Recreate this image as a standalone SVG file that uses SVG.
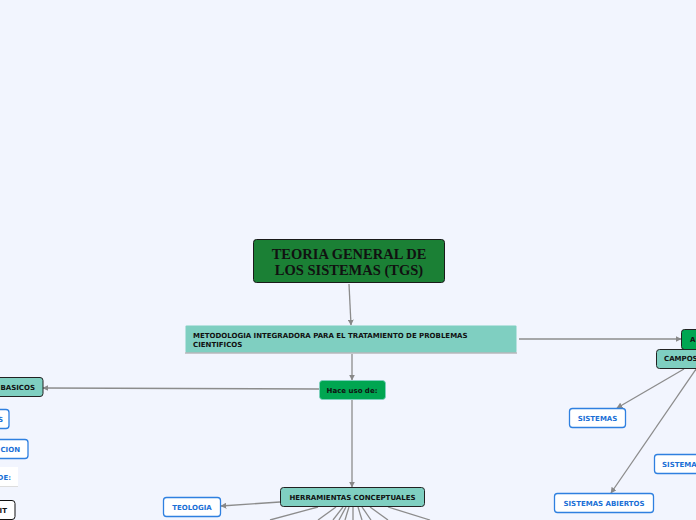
<svg xmlns="http://www.w3.org/2000/svg" width="696" height="520" viewBox="0 0 696 520">
<defs>
<marker id="arr" viewBox="0 0 10 10" refX="9" refY="5" markerWidth="6" markerHeight="6" orient="auto" markerUnits="userSpaceOnUse">
<path d="M0,0 L10,5 L0,10 z" fill="#888"/>
</marker>
<style>
.c{stroke:#8c8c8c;stroke-width:1.3;fill:none}
.ca{stroke:#8c8c8c;stroke-width:1.3;fill:none;marker-end:url(#arr)}
.t{font-family:"DejaVu Sans",Verdana,sans-serif;font-weight:bold;font-size:7px}
.teal{fill:#7fcfc1;stroke:#222;stroke-width:1}
.wb{fill:#fff;stroke:#2f80e0;stroke-width:1.3}
.bt{fill:#1a6fd6}
</style>
</defs>
<rect width="696" height="520" fill="#f2f5fe"/>
<g id="connectors">
<path class="ca" d="M349,284 L351,325"/>
<path class="ca" d="M519,339 L681,339"/>
<path class="ca" d="M352,354 L352,380"/>
<path class="ca" d="M319,389 L43,388"/>
<path class="ca" d="M352,400 L352,487"/>
<path class="ca" d="M280,502 L221,506"/>
<path class="ca" d="M684,369 L617,408"/>
<path class="ca" d="M696,369 L611,493"/>
<path class="c" d="M318,507 L270,520"/>
<path class="c" d="M336,507 L318,520"/>
<path class="c" d="M343,507 L333,520"/>
<path class="c" d="M346,507 L339,520"/>
<path class="c" d="M349,507 L345,520"/>
<path class="c" d="M353,507 L353,520"/>
<path class="c" d="M358,507 L362,520"/>
<path class="c" d="M362,507 L371,520"/>
<path class="c" d="M370,507 L388,520"/>
<path class="c" d="M388,507 L430,520"/>
</g>
<g id="root">
<rect x="253.5" y="239.5" width="191" height="43" rx="3" fill="#1b8035" stroke="#1a1a1a" stroke-width="1"/>
<text x="349" y="259" text-anchor="middle" font-family="'Liberation Serif','Times New Roman',serif" font-weight="bold" font-size="14.5" fill="#111">TEORIA GENERAL DE</text>
<text x="349" y="275" text-anchor="middle" font-family="'Liberation Serif','Times New Roman',serif" font-weight="bold" font-size="14.5" fill="#111">LOS SISTEMAS (TGS)</text>
</g>
<g id="metodologia">
<rect x="185.5" y="325.5" width="331" height="27" rx="1" fill="#7fcfc1"/>
<line x1="185" y1="353" x2="517" y2="353" stroke="#999" stroke-width="1"/>
<text class="t" x="193" y="338" fill="#111">METODOLOGIA INTEGRADORA PARA EL TRATAMIENTO DE PROBLEMAS</text>
<text class="t" x="193" y="346.5" fill="#111">CIENTIFICOS</text>
</g>
<g id="a-node">
<rect x="681.5" y="329.5" width="20" height="20" rx="3" fill="#00a651" stroke="#222" stroke-width="1"/>
<text class="t" x="690" y="342" fill="#111">A</text>
</g>
<g id="campos">
<rect class="teal" x="656.5" y="349.5" width="50" height="19" rx="3"/>
<text class="t" x="664" y="361" fill="#111">CAMPOS</text>
</g>
<g id="hace-uso">
<rect x="319.5" y="380.5" width="66" height="19" rx="3" fill="#00a651" stroke="#7fcfc1" stroke-width="0.8"/>
<text class="t" x="352" y="392.5" text-anchor="middle" fill="#111">Hace uso de:</text>
</g>
<g id="basicos">
<rect class="teal" x="-20" y="377.5" width="63" height="19" rx="3"/>
<text class="t" x="35" y="389.5" text-anchor="end" fill="#111">BASICOS</text>
</g>
<g id="herramientas">
<rect class="teal" x="280.5" y="487.5" width="144" height="19" rx="3"/>
<text class="t" x="352.5" y="499.5" text-anchor="middle" fill="#111">HERRAMIENTAS CONCEPTUALES</text>
</g>
<g id="teologia">
<rect class="wb" x="163.5" y="497.5" width="57" height="19" rx="3"/>
<text class="t bt" x="192" y="510" text-anchor="middle">TEOLOGIA</text>
</g>
<g id="left-1">
<rect class="wb" x="-30" y="409.5" width="39" height="19" rx="3"/>
<text class="t bt" x="3" y="422" text-anchor="end">S</text>
</g>
<g id="left-2">
<rect class="wb" x="-30" y="439.5" width="58" height="19" rx="3"/>
<text class="t bt" x="20" y="452" text-anchor="end">CION</text>
</g>
<g id="left-3">
<rect x="-30" y="467" width="48" height="19" fill="#fff"/>
<line x1="-30" y1="486.5" x2="18" y2="486.5" stroke="#ddd" stroke-width="1"/>
<text class="t bt" x="11" y="479.5" text-anchor="end">DE:</text>
</g>
<g id="left-4">
<rect x="-30" y="500.5" width="45" height="19" rx="3" fill="#fff" stroke="#111" stroke-width="1"/>
<text class="t" x="7" y="512.5" text-anchor="end" fill="#111">IT</text>
</g>
<g id="sistemas">
<rect class="wb" x="569.5" y="408.5" width="56" height="19" rx="3"/>
<text class="t bt" x="597.5" y="421" text-anchor="middle">SISTEMAS</text>
</g>
<g id="sistemas-2">
<rect class="wb" x="654.5" y="454.5" width="60" height="19" rx="3"/>
<text class="t bt" x="662" y="467">SISTEMAS</text>
</g>
<g id="sistemas-abiertos">
<rect class="wb" x="554.5" y="493.5" width="99" height="19" rx="3"/>
<text class="t bt" x="604" y="506" text-anchor="middle">SISTEMAS ABIERTOS</text>
</g>
</svg>
